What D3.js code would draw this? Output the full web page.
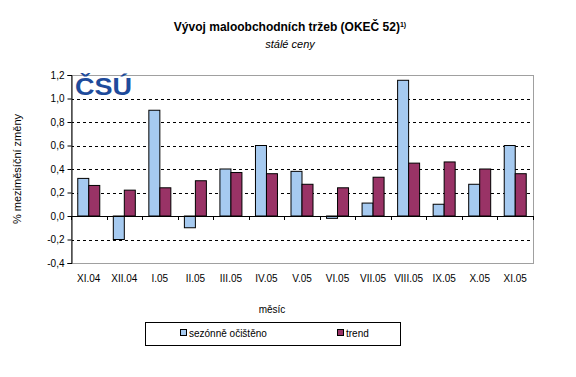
<!DOCTYPE html>
<html><head><meta charset="utf-8">
<script src="https://cdn.jsdelivr.net/npm/d3@7"></script>
<style>body{margin:0;background:#fff}svg{display:block}text{font-family:"Liberation Sans",Arial,sans-serif}</style>
</head><body><svg id="c" width="576" height="377"></svg>
<script>
const categories=["XI.04","XII.04","I.05","II.05","III.05","IV.05","V.05","VI.05","VII.05","VIII.05","IX.05","X.05","XI.05"];
const seasonal=[0.32,-0.20,0.90,-0.10,0.40,0.60,0.38,-0.02,0.11,1.155,0.10,0.27,0.60];
const trend=[0.26,0.22,0.24,0.30,0.37,0.36,0.27,0.24,0.33,0.45,0.46,0.40,0.36];
const yTicks=[-0.4,-0.2,0,0.2,0.4,0.6,0.8,1.0,1.2];
const seriesNames=["sezónně očištěno","trend"];
const colors=["#A6CAF0","#993366"];

const svg=d3.select("#c");
const L=71,R=533,T=75,B=263;
const x=d3.scaleBand().domain(categories).range([L,R]).paddingInner(0).paddingOuter(0);
const y=d3.scaleLinear().domain([-0.4,1.2]).range([B,T]);
const fmt=v=>d3.format(".1f")(v).replace(".",",").replace("−","-");

// title
svg.append("text").attr("x",290).attr("y",31).attr("text-anchor","middle").attr("font-size",12).attr("font-weight","bold").text("Vývoj maloobchodních tržeb (OKEČ 52)")
  .append("tspan").attr("font-size",7).attr("dy",-4).text("1)");
svg.append("text").attr("x",290).attr("y",48).attr("text-anchor","middle").attr("font-size",11).attr("font-style","italic").text("stálé ceny");

// gridlines
svg.append("g").selectAll("line").data(yTicks.filter(v=>v!==0&&v!==1.2&&v!==-0.4)).join("line")
  .attr("x1",L).attr("x2",R).attr("y1",d=>Math.round(y(d))+0.5).attr("y2",d=>Math.round(y(d))+0.5)
  .attr("stroke","#000").attr("stroke-dasharray","3,3");
// plot border
svg.append("rect").attr("x",L+0.5).attr("y",T+0.5).attr("width",R-L).attr("height",B-T).attr("fill","none").attr("stroke","#A0A0A0");

// logo
svg.append("text").attr("x",75).attr("y",95).attr("font-size",24).attr("font-weight","900").attr("fill","#1E4B9B")
  .attr("font-family","'DejaVu Sans',sans-serif").attr("textLength",57).attr("lengthAdjust","spacingAndGlyphs").text("ČSÚ");

// bars
const bw=11;
const g=svg.append("g");
categories.forEach((c,i)=>{
  const cx=x(c)+x.bandwidth()/2;
  [seasonal[i],trend[i]].forEach((v,k)=>{
    const y0=y(0),y1=y(v);
    g.append("rect").attr("x",cx-bw+k*bw).attr("y",Math.min(y0,y1)).attr("width",bw).attr("height",Math.max(Math.abs(y1-y0),0.5))
      .attr("fill",colors[k]).attr("stroke","#000").attr("stroke-width",1);
  });
});

// y axis
const ya=svg.append("g").attr("transform",`translate(${L+0.5},0)`).call(d3.axisLeft(y).tickValues(yTicks).tickSize(4).tickFormat(fmt));
ya.select(".domain").attr("stroke","#000");
ya.selectAll("text").attr("font-size",10).attr("font-family","'Liberation Sans',Arial,sans-serif");
// zero axis
svg.append("line").attr("x1",L).attr("x2",R).attr("y1",Math.round(y(0))+0.5).attr("y2",Math.round(y(0))+0.5).attr("stroke","#000");
svg.append("g").selectAll("line").data(d3.range(categories.length+1)).join("line")
  .attr("x1",i=>Math.round(L+i*x.bandwidth())+0.5).attr("x2",i=>Math.round(L+i*x.bandwidth())+0.5)
  .attr("y1",y(0)).attr("y2",y(0)+4).attr("stroke","#000");
// x labels
svg.append("g").selectAll("text").data(categories).join("text")
  .attr("x",d=>x(d)+x.bandwidth()/2).attr("y",282).attr("text-anchor","middle").attr("font-size",10).text(d=>d);

svg.append("text").attr("x",272).attr("y",313).attr("text-anchor","middle").attr("font-size",10).text("měsíc");
svg.append("text").attr("transform","translate(21,169) rotate(-90)").attr("text-anchor","middle").attr("font-size",11).text("% meziměsíční změny");

// legend
svg.append("rect").attr("x",145.5).attr("y",322.5).attr("width",255).attr("height",23).attr("fill","none").attr("stroke","#000");
const lx=[180,337];
seriesNames.forEach((n,k)=>{
  svg.append("rect").attr("x",lx[k]+0.5).attr("y",329.5).attr("width",6).attr("height",6).attr("fill",colors[k]).attr("stroke","#000");
  svg.append("text").attr("x",lx[k]+9).attr("y",337).attr("font-size",10).text(n);
});
</script></body></html>
